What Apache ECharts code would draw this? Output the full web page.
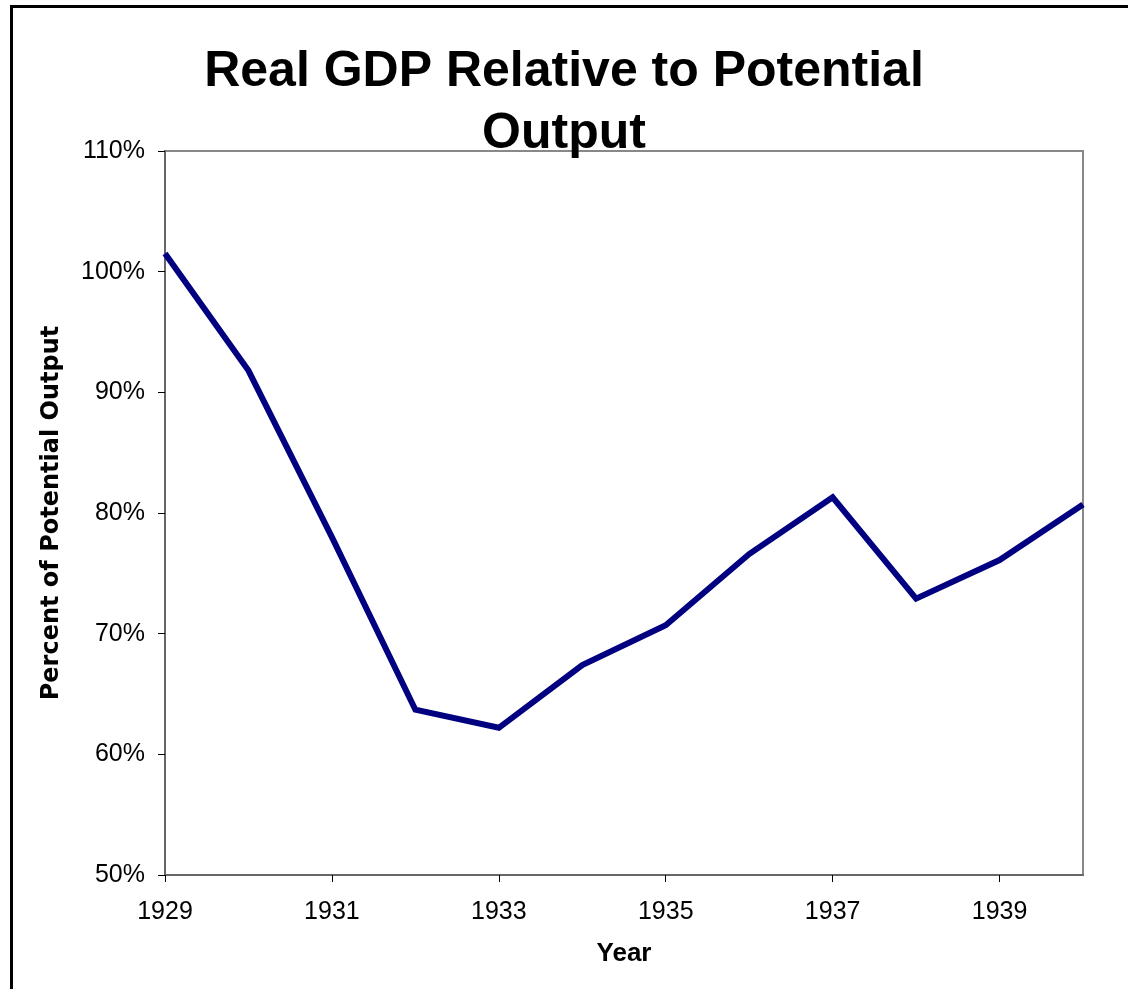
<!DOCTYPE html>
<html>
<head>
<meta charset="utf-8">
<script src="https://cdn.jsdelivr.net/npm/echarts@6/dist/echarts.min.js"></script>
<style>
html,body{margin:0;padding:0;background:#fff;}
#chart{width:1128px;height:989px;}
</style>
</head>
<body>
<div id="chart"></div>
<script>
var titleText = 'Real GDP Relative to Potential\nOutput';
var years = ['1929','1930','1931','1932','1933','1934','1935','1936','1937','1938','1939','1940'];
var gdpPct = [101.5, 91.8, 78.0, 63.7, 62.2, 67.4, 70.7, 76.6, 81.3, 72.9, 76.1, 80.7];
var yTicks = {min: 50, max: 110, step: 10};
var xAxisName = 'Year';
var yAxisName = 'Percent of Potential Output';

var chart = echarts.init(document.getElementById('chart'), null, {renderer: 'canvas'});
chart.setOption({
  backgroundColor: '#ffffff',
  animation: false,
  graphic: [{
    type: 'rect',
    shape: {x: 11.5, y: 6.5, width: 1200, height: 1100},
    style: {fill: 'none', stroke: '#000', lineWidth: 3},
    silent: true
  }],
  title: {
    text: titleText,
    left: 'center',
    top: 36,
    textStyle: {
      fontFamily: 'Liberation Sans, Arial, sans-serif',
      fontWeight: 'bold',
      fontSize: 50,
      lineHeight: 62,
      color: '#000'
    }
  },
  grid: {
    left: 165, right: 45, top: 151, bottom: 114,
    show: true,
    borderColor: '#888888',
    borderWidth: 2,
    containLabel: false
  },
  xAxis: {
    type: 'category',
    data: years,
    boundaryGap: false,
    name: xAxisName,
    nameLocation: 'middle',
    nameGap: 66,
    nameTextStyle: {fontFamily: 'Liberation Sans, Arial, sans-serif', fontWeight: 'bold', fontSize: 26, color: '#000'},
    axisLine: {lineStyle: {color: '#666666', width: 2}},
    axisTick: {interval: 1, length: 7, lineStyle: {color: '#000', width: 1}},
    axisLabel: {interval: 1, margin: 25, fontFamily: 'Liberation Sans, Arial, sans-serif', fontSize: 25, color: '#000'},
    splitLine: {show: false}
  },
  yAxis: {
    type: 'value',
    min: yTicks.min,
    max: yTicks.max,
    interval: yTicks.step,
    name: yAxisName,
    nameLocation: 'middle',
    nameGap: 101,
    nameRotate: 90,
    nameTextStyle: {fontFamily: 'DejaVu Sans', fontWeight: 'bold', fontSize: 24, color: '#000'},
    axisLine: {show: true, lineStyle: {color: '#666666', width: 2}},
    axisTick: {show: true, length: 7, lineStyle: {color: '#000', width: 1}},
    axisLabel: {formatter: '{value}%', margin: 20, fontFamily: 'Liberation Sans, Arial, sans-serif', fontSize: 25, color: '#000'},
    splitLine: {show: false}
  },
  series: [{
    type: 'line',
    data: gdpPct,
    showSymbol: false,
    symbol: 'none',
    lineStyle: {color: '#000080', width: 6, join: 'miter'},
    itemStyle: {color: '#000080'}
  }]
});
</script>
</body>
</html>
